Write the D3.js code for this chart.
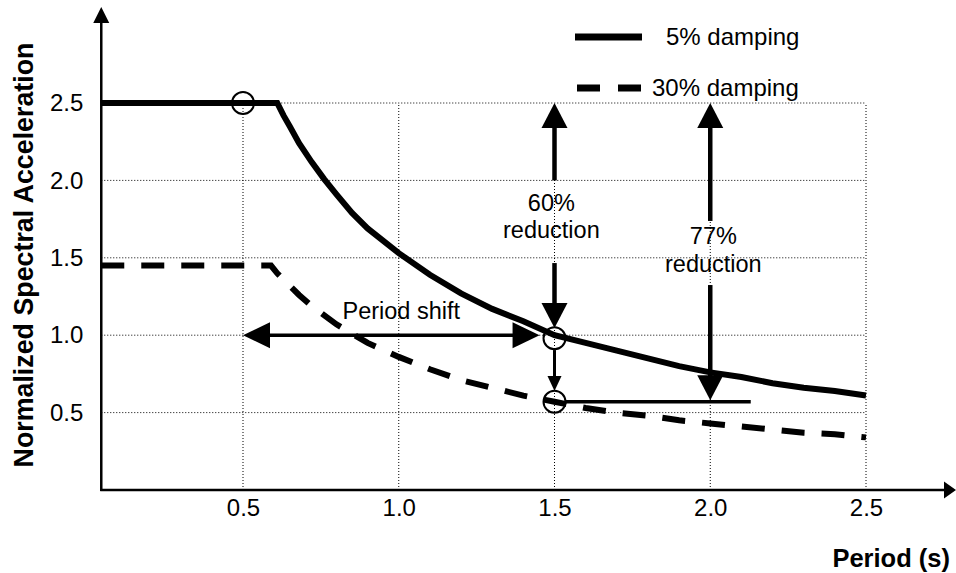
<!DOCTYPE html>
<html>
<head>
<meta charset="utf-8">
<script src="https://cdn.jsdelivr.net/npm/d3@7"></script>
<style>
  html, body { margin: 0; padding: 0; background: #fff; }
  svg { display: block; font-family: "Liberation Sans", Arial, Helvetica, sans-serif; }
</style>
</head>
<body>
<svg id="chart" width="956" height="573"></svg>
<script>
// ---- data -------------------------------------------------------------
const periodTicks = [0.5, 1.0, 1.5, 2.0, 2.5];
const accelTicks  = [0.5, 1.0, 1.5, 2.0, 2.5];
const periodStart = 0.045;              // period where the vertical axis sits

// 5% damping design spectrum
const periods5 = [0.045, 0.61, 0.63, 0.65, 0.68, 0.72, 0.76, 0.80, 0.85, 0.90, 1.0, 1.1, 1.2, 1.3, 1.4, 1.5, 1.6, 1.7, 1.8, 1.9, 2.0, 2.1, 2.2, 2.3, 2.4, 2.5];
const accel5   = [2.50, 2.50, 2.42, 2.35, 2.24, 2.12, 2.01, 1.91, 1.79, 1.69, 1.53, 1.39, 1.27, 1.17, 1.09, 1.00, 0.95, 0.90, 0.85, 0.80, 0.76, 0.73, 0.69, 0.66, 0.64, 0.61];

// 30% damping design spectrum
const periods30 = [0.045, 0.59, 0.61, 0.63, 0.65, 0.68, 0.72, 0.76, 0.80, 0.85, 0.90, 1.0, 1.1, 1.2, 1.3, 1.4, 1.5, 1.6, 1.7, 1.8, 1.9, 2.0, 2.1, 2.2, 2.3, 2.4, 2.5];
const accel30   = [1.45, 1.45, 1.40, 1.36, 1.32, 1.26, 1.19, 1.13, 1.07, 1.01, 0.95, 0.86, 0.78, 0.71, 0.66, 0.61, 0.57, 0.53, 0.50, 0.48, 0.45, 0.43, 0.41, 0.39, 0.37, 0.36, 0.34];

const seriesNames = ["5% damping", "30% damping"];

// highlighted points [period, acceleration]
const markerPeriods = [0.5, 1.5, 1.5];
const markerAccels  = [2.5, 0.98, 0.57];

// annotation texts
const shiftLabel = "Period shift";
const reduction60Label = ["60%", "reduction"];
const reduction77Label = ["77%", "reduction"];

// ---- scales -----------------------------------------------------------
const svg = d3.select("#chart");
const x = d3.scaleLinear().domain([0.5, 2.5]).range([243, 866]);
const y = d3.scaleLinear().domain([0, 2.5]).range([490, 103]);

const x0 = x(periodStart), y0 = y(0);
const xEnd = x(2.5), yTop = y(2.5);

// ---- dotted grid ------------------------------------------------------
const grid = svg.append("g").attr("class", "grid")
  .attr("stroke", "#000").attr("stroke-width", 1).attr("stroke-dasharray", "1,2");
grid.selectAll("line.v").data(periodTicks).join("line")
  .attr("class", "v")
  .attr("x1", d => x(d)).attr("x2", d => x(d))
  .attr("y1", y0).attr("y2", yTop);
grid.selectAll("line.h").data(accelTicks).join("line")
  .attr("class", "h")
  .attr("x1", x0).attr("x2", xEnd)
  .attr("y1", d => y(d)).attr("y2", d => y(d));

// ---- tick labels via d3 axes -----------------------------------------
const xAxis = svg.append("g")
  .attr("transform", `translate(0,${y0})`)
  .call(d3.axisBottom(x).tickValues(periodTicks).tickFormat(d3.format(".1f")).tickSize(0).tickPadding(8.5));
const yAxis = svg.append("g")
  .attr("transform", `translate(${x0},0)`)
  .call(d3.axisLeft(y).tickValues(accelTicks).tickFormat(d3.format(".1f")).tickSize(0).tickPadding(18));
[xAxis, yAxis].forEach(g => {
  g.select(".domain").remove();
  g.selectAll("text").attr("font-size", 24).attr("fill", "#000")
    .attr("font-family", "'Liberation Sans', Arial, sans-serif");
});

// ---- spectra ----------------------------------------------------------
const line = d3.line().x(d => x(d[0])).y(d => y(d[1]));
const data5 = d3.zip(periods5, accel5);
const data30 = d3.zip(periods30, accel30);

svg.append("path").datum(data30)
  .attr("d", line).attr("fill", "none")
  .attr("stroke", "#000").attr("stroke-width", 6)
  .attr("stroke-dasharray", "23,17");

svg.append("path").datum(data5)
  .attr("d", line).attr("fill", "none")
  .attr("stroke", "#000").attr("stroke-width", 6);

// ---- axes with arrowheads ---------------------------------------------
svg.append("line").attr("x1", x0).attr("x2", x0).attr("y1", y0 + 1).attr("y2", 20)
  .attr("stroke", "#000").attr("stroke-width", 2.5);
svg.append("path")
  .attr("d", `M${x0},7 L${x0 - 8},23 L${x0 + 8},23 Z`).attr("fill", "#000");
svg.append("line").attr("x1", x0 - 1).attr("x2", 946).attr("y1", y0).attr("y2", y0)
  .attr("stroke", "#000").attr("stroke-width", 2.5);
svg.append("path")
  .attr("d", `M956,${y0} L944,${y0 - 8.5} L944,${y0 + 8.5} Z`).attr("fill", "#000");

// ---- axis titles ------------------------------------------------------
svg.append("text")
  .attr("transform", `translate(33,255) rotate(-90)`)
  .attr("text-anchor", "middle").attr("font-weight", "bold").attr("font-size", 26.8)
  .text("Normalized Spectral Acceleration");
svg.append("text")
  .attr("x", 950).attr("y", 567).attr("text-anchor", "end")
  .attr("font-weight", "bold").attr("font-size", 25.5)
  .text("Period (s)");

// ---- legend -----------------------------------------------------------
const legend = svg.append("g");
legend.append("line").attr("x1", 575).attr("x2", 642).attr("y1", 37).attr("y2", 37)
  .attr("stroke", "#000").attr("stroke-width", 7);
legend.append("text").attr("x", 666).attr("y", 45).attr("font-size", 24).text(seriesNames[0]);
legend.append("line").attr("x1", 577).attr("x2", 642).attr("y1", 88).attr("y2", 88)
  .attr("stroke", "#000").attr("stroke-width", 7).attr("stroke-dasharray", "23,18");
legend.append("text").attr("x", 652).attr("y", 96).attr("font-size", 24).text(seriesNames[1]);

// ---- annotation helpers ----------------------------------------------
const ann = svg.append("g").attr("class", "annotations");

function head(tipX, tipY, dirX, dirY, len, half) {
  // filled triangular head pointing along (dirX, dirY)
  const bx = tipX - dirX * len, by = tipY - dirY * len;
  const px = -dirY * half, py = dirX * half;
  ann.append("path")
    .attr("d", `M${tipX},${tipY} L${bx + px},${by + py} L${bx - px},${by - py} Z`)
    .attr("fill", "#000");
}
function shaft(x1, y1, x2, y2, w) {
  ann.append("line").attr("x1", x1).attr("y1", y1).attr("x2", x2).attr("y2", y2)
    .attr("stroke", "#000").attr("stroke-width", w);
}

// period shift: double arrow at Sa = 1.0 from T = 0.5 to T = 1.45
{
  const yy = y(1.0), xa = x(0.5), xb = x(1.452);
  shaft(xa + 20, yy, xb - 20, yy, 3.5);
  head(xa, yy, -1, 0, 27, 13);
  head(xb, yy, 1, 0, 27, 13);
  ann.append("text").attr("x", x(1.008)).attr("y", y(1.105))
    .attr("text-anchor", "middle").attr("font-size", 23.5).text(shiftLabel);
}

// 60% reduction: double arrow at T = 1.5, split around its label
{
  const xx = x(1.5);
  const tipTop = y(2.5), tipBot = y(1.047);
  shaft(xx, tipTop + 20, xx, y(2.0), 4.5);
  shaft(xx, y(1.466), xx, tipBot - 20, 4.5);
  head(xx, tipTop, 0, -1, 25, 13);
  head(xx, tipBot, 0, 1, 25, 13);
  ann.selectAll("text.r60").data(reduction60Label).join("text")
    .attr("class", "r60")
    .attr("x", x(1.49)).attr("y", (d, i) => y(i ? 1.63 : 1.80))
    .attr("text-anchor", "middle").attr("font-size", 23.5).text(d => d);
}

// small arrow between the two damping levels at T = 1.5
{
  const xx = x(1.5);
  shaft(xx, y(0.904), xx, y(0.64) - 10, 3);
  head(xx, y(0.64), 0, 1, 15, 7);
}

// reference line at the reduced level
shaft(x(1.534), y(0.57), x(2.13), y(0.57), 3.5);

// 77% reduction: double arrow at T = 2.0
{
  const xx = x(2.0);
  const tipTop = y(2.5), tipBot = y(0.58);
  shaft(xx, tipTop + 20, xx, y(1.738), 4.5);
  shaft(xx, y(1.324), xx, tipBot - 20, 4.5);
  head(xx, tipTop, 0, -1, 25, 13);
  head(xx, tipBot, 0, 1, 25, 13);
  ann.selectAll("text.r77").data(reduction77Label).join("text")
    .attr("class", "r77")
    .attr("x", x(2.01)).attr("y", (d, i) => y(i ? 1.41 : 1.59))
    .attr("text-anchor", "middle").attr("font-size", 23.5).text(d => d);
}

// circled points
ann.selectAll("circle").data(d3.zip(markerPeriods, markerAccels)).join("circle")
  .attr("cx", d => x(d[0])).attr("cy", d => y(d[1])).attr("r", 11)
  .attr("fill", "none").attr("stroke", "#000").attr("stroke-width", 2);
</script>
</body>
</html>
